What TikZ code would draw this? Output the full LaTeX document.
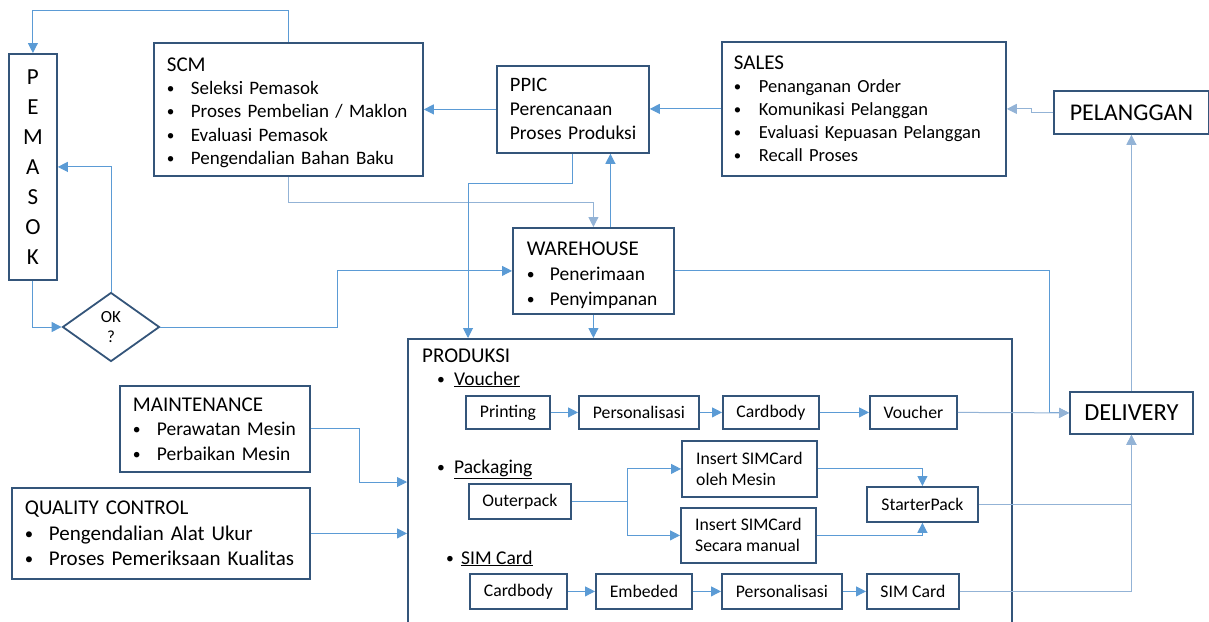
\documentclass[tikz,border=0pt]{standalone}
\usepackage{fontspec}
\usepackage{graphicx}
\setmainfont{Carlito}
\usetikzlibrary{arrows.meta,shapes.geometric}
\definecolor{bd}{HTML}{34557A}
\definecolor{ln}{HTML}{5B9BD5}
\definecolor{lnl}{HTML}{93B3D6}
\newcommand\bul{\raisebox{0.05em}{\scalebox{0.8}{\textbullet}}}
\newcommand\itm[2][24pt]{\mbox{\makebox[#1][l]{\bul}#2}}
\newcommand\ml[1]{\mbox{#1}}
\newcommand\ttl[2][0pt]{\mbox{\fontsize{21}{23}\selectfont\rule{0pt}{#1}#2}}
\begin{document}
\begin{tikzpicture}[x=1pt,y=-1pt,
  box/.style={draw=bd,line width=1.8pt,inner sep=0pt,anchor=north west},
  tbox/.style={box,align=left,inner xsep=13pt},
  sbox/.style={box,align=center,font=\fontsize{17.7}{21}\selectfont},
  arr/.style={draw=ln,line width=1pt,-{Triangle[length=10pt,width=10pt]}},
  con/.style={draw=ln,line width=1pt},
  lite/.style={draw=lnl}]
\useasboundingbox (0,0) rectangle (1209,621);

% main boxes
\node[box,minimum width=48pt,minimum height=226pt,align=center,font=\fontsize{23}{30}\selectfont] (pemasok) at (8,53) {P\\E\\M\\A\\S\\O\\K};
\node[tbox,minimum width=269pt,minimum height=133pt,text width=243pt,font=\fontsize{19}{23.3}\selectfont] (scm) at (153,42)
  {\ttl[20pt]{SCM}\\\itm{Seleksi Pemasok}\\\itm{Proses Pembelian / Maklon}\\\itm{Evaluasi Pemasok}\\\itm{Pengendalian Bahan Baku}};
\node[tbox,minimum width=152pt,minimum height=87pt,text width=126pt,font=\fontsize{19.5}{24}\selectfont] (ppic) at (496,65)
  {\ml{\fontsize{20.5}{24}\selectfont PPIC}\\\ml{Perencanaan}\\\ml{Proses Produksi}};
\node[tbox,inner xsep=12pt,minimum width=284pt,minimum height=134pt,text width=260pt,font=\fontsize{18.5}{23}\selectfont] (sales) at (721,41)
  {\ttl{SALES}\\\itm[25pt]{Penanganan Order}\\\itm[25pt]{Komunikasi Pelanggan}\\\itm[25pt]{Evaluasi Kepuasan Pelanggan}\\\itm[25pt]{Recall Proses}};
\node[box,minimum width=155pt,minimum height=43pt,font=\fontsize{24}{28}\selectfont] (pelanggan) at (1053,90) {PELANGGAN};
\node[tbox,inner xsep=14pt,minimum width=161pt,minimum height=86pt,text width=133pt,font=\fontsize{19.5}{25}\selectfont] (wh) at (512,227)
  {\ttl[22pt]{WAREHOUSE}\\\itm[23pt]{Penerimaan}\\\itm[23pt]{Penyimpanan}};
\node[diamond,draw=bd,line width=1.8pt,minimum width=97pt,minimum height=69pt,inner sep=0pt,align=center,font=\fontsize{17}{20}\selectfont] (ok) at (111,327) {OK\\?};
\node[tbox,minimum width=190pt,minimum height=86pt,text width=164pt,font=\fontsize{19.5}{24.5}\selectfont] (maint) at (119,385)
  {\ttl{MAINTENANCE}\\\itm{Perawatan Mesin}\\\itm{Perbaikan Mesin}};
\node[tbox,minimum width=298pt,minimum height=91pt,text width=272pt,font=\fontsize{21}{25.5}\selectfont] (qc) at (11,487)
  {\ttl{QUALITY CONTROL}\\\itm{Pengendalian Alat Ukur}\\\itm{Proses Pemeriksaan Kualitas}};
\node[box,minimum width=123pt,minimum height=42pt,font=\fontsize{24.5}{28}\selectfont] (delivery) at (1069,391) {DELIVERY};

% produksi
\node[box,minimum width=604pt,minimum height=300pt] (prod) at (407,338) {};
\node[anchor=base west,inner sep=0pt,font=\fontsize{21}{24}\selectfont] (prodlbl) at (422,362) {PRODUKSI};
\node[anchor=base west,inner sep=0pt,font=\fontsize{19.5}{23}\selectfont] (hvou) at (437,385) {\makebox[17pt][l]{\bul}\underline{Voucher}};
\node[anchor=base west,inner sep=0pt,font=\fontsize{19.5}{23}\selectfont] (hpack) at (437,473) {\makebox[17pt][l]{\bul}\underline{Packaging}};
\node[anchor=base west,inner sep=0pt,font=\fontsize{19.5}{23}\selectfont] (hsim) at (446,564) {\makebox[15pt][l]{\bul}\underline{SIM Card}};

\node[sbox,minimum width=84pt,minimum height=33pt] (printing) at (465,395) {Printing};
\node[sbox,minimum width=120pt,minimum height=33pt] (pers1) at (578,395) {Personalisasi};
\node[sbox,minimum width=96pt,minimum height=33pt] (card1) at (722,395) {Cardbody};
\node[sbox,minimum width=87pt,minimum height=33pt] (voucher) at (869,395) {Voucher};

\node[sbox,minimum width=102pt,minimum height=35pt] (outer) at (468,483) {Outerpack};
\node[sbox,align=left,minimum width=135pt,minimum height=56pt] (ins1) at (681,440) {Insert SIMCard\\oleh Mesin};
\node[sbox,align=left,minimum width=135pt,minimum height=55pt] (ins2) at (680,507) {Insert SIMCard\\Secara manual};
\node[sbox,minimum width=111pt,minimum height=35pt] (sp) at (866,486) {StarterPack};

\node[sbox,minimum width=97pt,minimum height=35pt] (card2) at (469,573) {Cardbody};
\node[sbox,minimum width=96pt,minimum height=35pt] (emb) at (595,573) {Embeded};
\node[sbox,minimum width=120pt,minimum height=35pt] (pers2) at (721,573) {Personalisasi};
\node[sbox,minimum width=92pt,minimum height=35pt] (sim) at (866,573) {SIM Card};

% connectors top
\draw[arr] (scm.north) -- ++(0,-32) -| (pemasok.north);
\draw[arr,lite] (scm.south) -- ++(0,26) -| (wh.north);
\draw[arr] (ppic.west) -- (scm.east);
\draw[arr] (sales.west) -- (ppic.east |- sales.west);
\draw[arr,lite] (pelanggan.west) -| ([xshift=25pt]sales.east) -- (sales.east);
\draw[arr,lite] (delivery.north) -- (pelanggan.south);
\coordinate (p1) at (468,338);
\draw[arr] (ppic.south) -- ++(0,30) -| (p1);
\draw[arr] ([xshift=17pt]wh.north) -- ([xshift=17pt]wh.north |- ppic.south);
\draw[arr] (wh.south) -- (wh.south |- prod.north);
\draw[arr] (pemasok.south) |- (ok.west);
\draw[arr] (ok.north) |- (pemasok.east);
\draw[arr] (ok.east) -- ++(177,0) |- (wh.west);
\draw[arr] (wh.east) -| ([xshift=-20pt]delivery.west) -- (delivery.west);
\draw[arr,lite] (voucher.east) -- (delivery.west);

% left side into produksi
\coordinate (m1) at (407,482);
\draw[arr] (maint.east) -- ++(49,0) |- (m1);
\draw[arr] (qc.east) -- (qc.east -| prod.west);

% voucher row
\draw[arr] (printing.east) -- (pers1.west);
\draw[arr] (pers1.east) -- (card1.west);
\draw[arr] (card1.east) -- (voucher.west);

% packaging
\draw[con] (outer.east) -- ++(56,0) coordinate (br);
\draw[arr] (br) |- (ins1.west);
\draw[arr] (br) |- (ins2.west);
\draw[arr] (ins1.east) -| (sp.north);
\draw[arr] (ins2.east) -| (sp.south);
\draw[arr,lite] (sp.east) -| (delivery.south);

% sim row
\draw[arr] (card2.east) -- (emb.west);
\draw[arr] (emb.east) -- (pers2.west);
\draw[arr] (pers2.east) -- (sim.west);
\draw[arr,lite] (sim.east) -| (delivery.south);
\end{tikzpicture}
\end{document}
